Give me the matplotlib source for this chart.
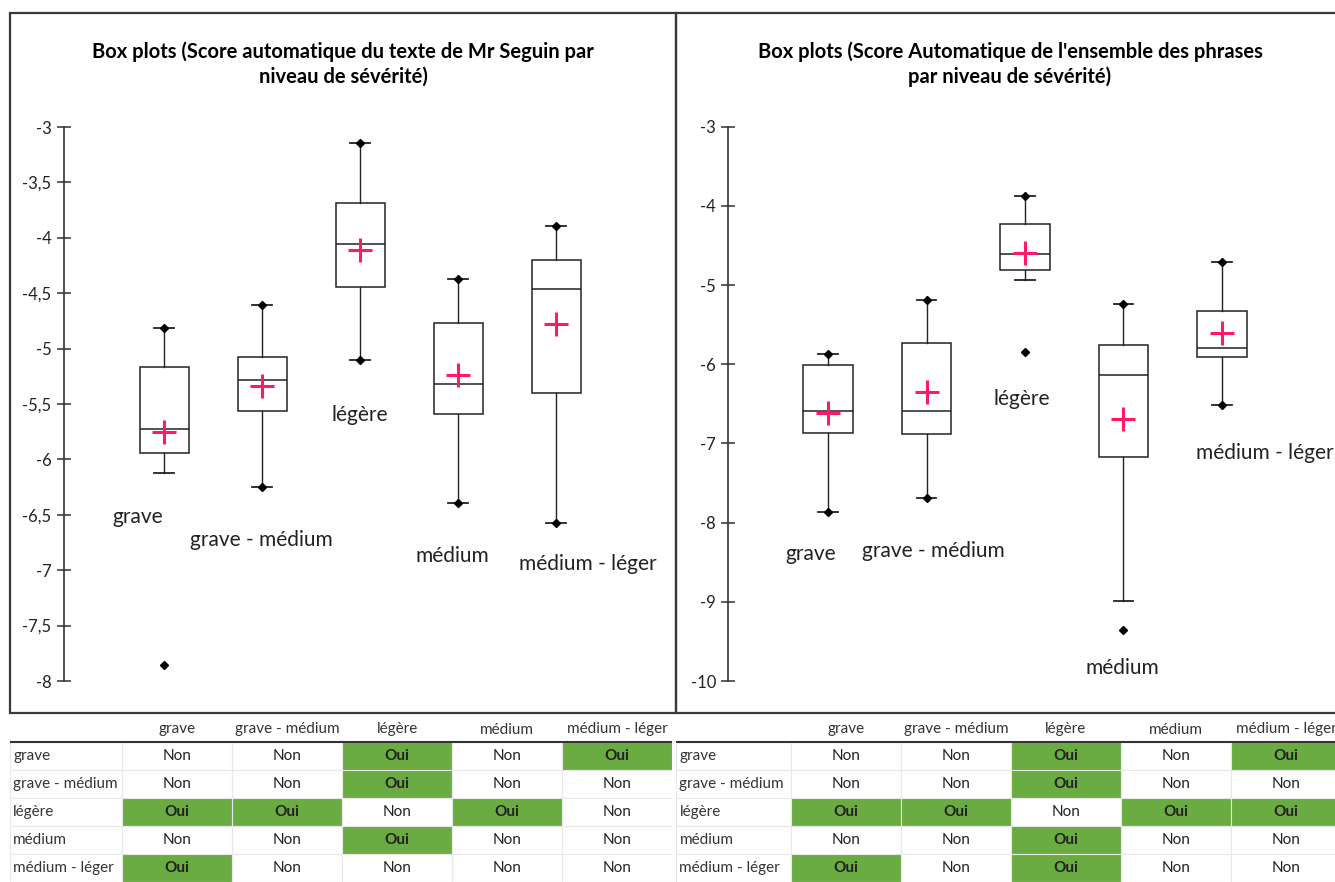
import matplotlib
matplotlib.use("Agg")
import matplotlib.pyplot as plt
from matplotlib.patches import Rectangle
from matplotlib.lines import Line2D

# ── data ───────────────────────────────────────────────────────────────────
CATS = ["grave", "grave - médium", "légère", "médium", "médium - léger"]

# left panel: Score automatique du texte de Mr Seguin
L_WHISLO = [-6.12, -6.25, -5.10, -6.39, -6.57]
L_Q1     = [-5.94, -5.56, -4.44, -5.59, -5.40]
L_MED    = [-5.73, -5.28, -4.06, -5.32, -4.46]
L_MEAN   = [-5.75, -5.34, -4.11, -5.24, -4.78]
L_Q3     = [-5.17, -5.08, -3.69, -4.77, -4.20]
L_WHISHI = [-4.81, -4.61, -3.14, -4.37, -3.89]
L_FLIERS = [[-7.86], [], [], [], []]
L_DOT_LO = [False, True, True, True, True]
L_DOT_HI = [True, True, True, True, True]

# right panel: Score automatique de l'ensemble des phrases
R_WHISLO = [-7.86, -7.69, -4.94, -8.99, -6.51]
R_Q1     = [-6.87, -6.88, -4.81, -7.17, -5.91]
R_MED    = [-6.59, -6.59, -4.61, -6.13, -5.80]
R_MEAN   = [-6.62, -6.35, -4.60, -6.69, -5.61]
R_Q3     = [-6.01, -5.73, -4.23, -5.76, -5.33]
R_WHISHI = [-5.87, -5.19, -3.87, -5.24, -4.71]
R_FLIERS = [[], [], [-5.85], [-9.35], []]
R_DOT_LO = [True, True, False, False, True]
R_DOT_HI = [True, True, True, True, True]

# significance tables (row vs column)
L_SIG = [["Non", "Non", "Oui", "Non", "Oui"],
         ["Non", "Non", "Oui", "Non", "Non"],
         ["Oui", "Oui", "Non", "Oui", "Non"],
         ["Non", "Non", "Oui", "Non", "Non"],
         ["Oui", "Non", "Non", "Non", "Non"]]
R_SIG = [["Non", "Non", "Oui", "Non", "Oui"],
         ["Non", "Non", "Oui", "Non", "Non"],
         ["Oui", "Oui", "Non", "Oui", "Oui"],
         ["Non", "Non", "Oui", "Non", "Non"],
         ["Oui", "Non", "Oui", "Non", "Non"]]
TABLE_ROWS = ["grave", "grave - médium", "légère", "médium", "médium - léger"]

L_TITLE = "Box plots (Score automatique du texte de Mr Seguin par\nniveau de sévérité)"
R_TITLE = "Box plots (Score Automatique de l'ensemble des phrases\npar niveau de sévérité)"
L_YTICKS = [-3, -3.5, -4, -4.5, -5, -5.5, -6, -6.5, -7, -7.5, -8]
R_YTICKS = [-3, -4, -5, -6, -7, -8, -9, -10]

# label anchors (data units) for category names inside the plots
L_LABEL_POS = [(0.73, -6.52), (1.99, -6.73), (3.0, -5.60), (3.94, -6.87), (5.32, -6.94)]
R_LABEL_POS = [(0.82, -8.40), (2.07, -8.36), (2.97, -6.44), (3.99, -9.83), (5.43, -7.12)]

# ── styling ────────────────────────────────────────────────────────────────
W, H = 1335, 882
GREEN = '#6aab42'
PINK = '#ff1a66'
TITLE_FONT = ['Lato', 'DejaVu Sans']
BODY_FONT = ['Lato', 'DejaVu Sans']

fig = plt.figure(figsize=(W / 100, H / 100), dpi=100)
fig.patch.set_facecolor('white')


def px_axes(x0, x1, y0, y1):
    """Axes from pixel box (top-left origin)."""
    return fig.add_axes([x0 / W, 1 - y1 / H, (x1 - x0) / W, (y1 - y0) / H])


def boxpanel(ax, whislo, q1, med, mean, q3, whishi, fliers, dot_lo, dot_hi,
             yticks, ylim, xlim, label_pos, decimal):
    stats = []
    for i in range(len(CATS)):
        stats.append(dict(label=CATS[i], whislo=whislo[i], q1=q1[i], med=med[i],
                          mean=mean[i], q3=q3[i], whishi=whishi[i], fliers=fliers[i]))
    pos = list(range(1, len(CATS) + 1))
    ax.bxp(stats, positions=pos, widths=0.5, capwidths=0.2, showmeans=True,
           patch_artist=True,
           boxprops=dict(facecolor='white', edgecolor='#222222', lw=1.1),
           medianprops=dict(color='#222222', lw=1.1),
           whiskerprops=dict(color='#222222', lw=1.0),
           capprops=dict(color='#222222', lw=1.3),
           meanprops=dict(marker='+', markersize=17, markeredgecolor=PINK,
                          markeredgewidth=2.2),
           flierprops=dict(marker='D', markersize=4, markerfacecolor='black',
                           markeredgecolor='black'))
    for i, p in enumerate(pos):
        if dot_lo[i]:
            ax.plot(p, whislo[i], marker='D', ms=4, color='black')
        if dot_hi[i]:
            ax.plot(p, whishi[i], marker='D', ms=4, color='black')
    for name, (lx, ly) in zip(CATS, label_pos):
        ax.text(lx, ly, name, ha='center', va='center', fontsize=15,
                family=BODY_FONT, color='#222222')
    ax.set_xlim(*xlim)
    ax.set_ylim(*ylim)
    ax.set_yticks(yticks)
    if decimal:
        ax.set_yticklabels([f"{v:g}".replace('.', ',') for v in yticks])
    else:
        ax.set_yticklabels([f"{v:g}" for v in yticks])
    ax.set_xticks([])
    for s in ['top', 'right', 'bottom']:
        ax.spines[s].set_visible(False)
    ax.spines['left'].set_color('#333333')
    ax.spines['left'].set_linewidth(1.2)
    ax.tick_params(axis='y', direction='inout', length=10, width=1.1,
                   color='#333333', pad=4, labelsize=12, labelcolor='#222222')
    for t in ax.get_yticklabels():
        t.set_family(BODY_FONT)
    ax.patch.set_alpha(0)


# left box plot
axL = px_axes(64, 660, 127, 681)
boxpanel(axL, L_WHISLO, L_Q1, L_MED, L_MEAN, L_Q3, L_WHISHI, L_FLIERS,
         L_DOT_LO, L_DOT_HI, L_YTICKS, (-8, -3), (-0.0204, 6.061),
         L_LABEL_POS, True)

# right box plot
axR = px_axes(728.5, 1340, 126.7, 681)
boxpanel(axR, R_WHISLO, R_Q1, R_MED, R_MEAN, R_Q3, R_WHISHI, R_FLIERS,
         R_DOT_LO, R_DOT_HI, R_YTICKS, (-10, -3), (-0.0102, 6.198),
         R_LABEL_POS, False)

# titles
fig.text(343 / W, 1 - 64 / H, L_TITLE, ha='center', va='center', fontsize=14.5,
         fontweight='bold', family=TITLE_FONT, linespacing=1.25)
fig.text(1010 / W, 1 - 64 / H, R_TITLE, ha='center', va='center', fontsize=14.5,
         fontweight='bold', family=TITLE_FONT, linespacing=1.25)

# panel frames
for x0, x1 in [(10, 676.5), (676.5, 1350)]:
    fig.add_artist(Rectangle((x0 / W, 1 - 713 / H), (x1 - x0) / W, (713 - 13) / H,
                             transform=fig.transFigure, fill=False,
                             edgecolor='#3a3a3a', lw=1.6))


# ── tables ────────────────────────────────────────────────────────────────
def draw_table(x0, label_w, cell_w, sig):
    top, head_h, row_h = 713, 29, 28
    ncol = len(CATS)
    x_end = x0 + label_w + cell_w * ncol
    ax = px_axes(x0, x_end, top, top + head_h + row_h * len(sig))
    ax.set_xlim(0, x_end - x0)
    ax.set_ylim(head_h + row_h * len(sig), 0)
    ax.axis('off')
    for j, name in enumerate(CATS):
        cx = label_w + cell_w * (j + 0.5)
        ax.text(cx, head_h / 2 + 2, name, ha='center', va='center', fontsize=11,
                family=BODY_FONT, color='#333333')
    for i, rname in enumerate(TABLE_ROWS):
        y = head_h + row_h * i
        ax.add_patch(Rectangle((0, y), label_w, row_h, facecolor='white',
                               edgecolor='#e8e8e8', lw=0.8))
        ax.text(3, y + row_h / 2, rname, ha='left', va='center', fontsize=11,
                family=BODY_FONT, color='#333333')
        for j, v in enumerate(sig[i]):
            x = label_w + cell_w * j
            oui = v == "Oui"
            ax.add_patch(Rectangle((x, y), cell_w, row_h,
                                   facecolor=GREEN if oui else 'white',
                                   edgecolor='#e8e8e8', lw=0.8))
            ax.text(x + cell_w / 2, y + row_h / 2, v, ha='center', va='center',
                    fontsize=11, family=BODY_FONT, color='#222222',
                    fontweight='bold' if oui else 'normal')
    ax.add_line(Line2D([0, x_end - x0], [head_h, head_h], color='#333333', lw=1.5))


draw_table(10, 112, 110, L_SIG)
draw_table(676.5, 114.5, 110, R_SIG)

fig.savefig("out.png", dpi=100, facecolor='white')
